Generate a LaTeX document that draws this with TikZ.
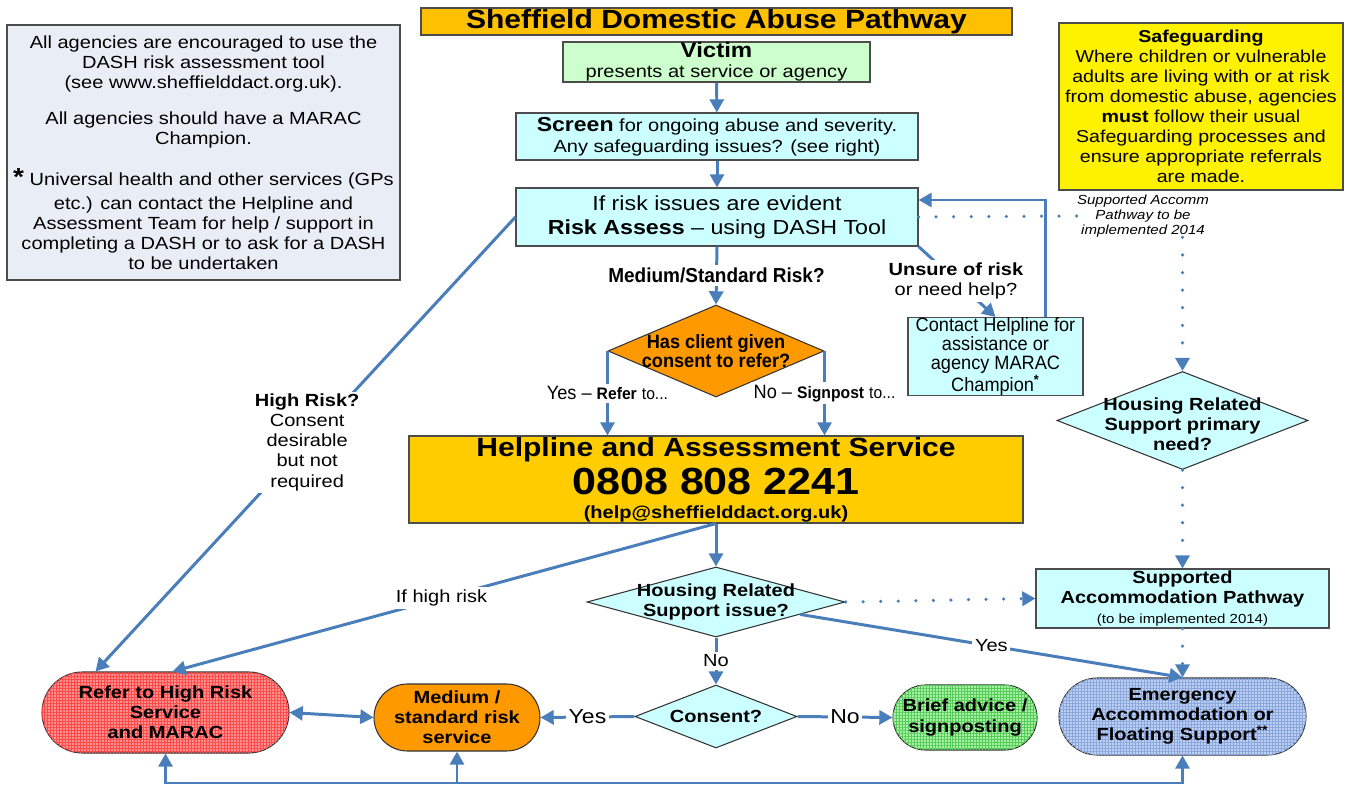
\documentclass[tikz,border=0pt]{standalone}
\usepackage{fontspec}
\setmainfont{Liberation Sans}[FakeStretch=1.14]
\newfontfamily\narrowfont{Liberation Sans}[FakeStretch=0.94, Ligatures=TeX]
\usetikzlibrary{arrows.meta,shapes.geometric,patterns.meta,calc}
\definecolor{lineblue}{HTML}{4A7EBB}
\definecolor{titlegold}{HTML}{FFC000}
\definecolor{helpgold}{HTML}{FFCC00}
\definecolor{palecyan}{HTML}{CCFFFF}
\definecolor{palegreen}{HTML}{CCFFCC}
\definecolor{infogrey}{HTML}{E9EEF6}
\definecolor{deeporange}{HTML}{FF9900}
\definecolor{riskred}{HTML}{FF9090}
\definecolor{riskline}{HTML}{FF4A4A}
\definecolor{briefgreen}{HTML}{A8F0A8}
\definecolor{briefline}{HTML}{55CC55}
\definecolor{emblue}{HTML}{BCD0F2}
\definecolor{emline}{HTML}{8AA6DC}
\newcommand{\fs}[2]{\fontsize{#1}{#2}\selectfont}
\begin{document}
\begin{tikzpicture}[x=0.02cm, y=-0.02cm, >={Triangle[length=7.5pt,width=8pt]},
  every node/.style={font=\fs{10}{11.4}, align=center, inner sep=0pt},
  wh/.style 2 args={minimum width=#1*0.02cm, minimum height=#2*0.02cm},
  box/.style={draw=black!70, line width=0.6pt},
  dia/.style={diamond, draw=black!80, line width=0.6pt},
  pill/.style={draw=black!80, line width=0.6pt, rounded corners=#1*0.01cm},
  mesh/.style 2 args={fill=#1,
    postaction={pattern={Lines[distance=1.7pt,line width=0.35pt]}, pattern color=#2},
    postaction={pattern={Lines[angle=90,distance=1.7pt,line width=0.35pt]}, pattern color=#2}},
  flow/.style={draw=lineblue, line width=1.7pt, ->},
  dots/.style={draw=lineblue, line width=2pt, line cap=round, dash pattern=on 0pt off 10pt, ->},
  lbl/.style={fill=white, inner sep=1.5pt},
  nb/.style={font=\narrowfont\bfseries\fs{#1}{#1}},
  dtext/.style={font=\bfseries\fs{10}{11.4}}]
\useasboundingbox (0,0) rectangle (1353,787);
% header and side notes
\node[box, fill=titlegold, wh={591}{27}, font=\bfseries\fs{15}{16}] (title) at (716.5,21.5) {Sheffield Domestic Abuse Pathway};
\node[box, fill=infogrey, wh={393}{255}] (info) at (203.5,152.5) {All agencies are encouraged to use the\\DASH risk assessment tool\\(see www.sheffielddact.org.uk).\\[9pt]
  All agencies should have a MARAC\\Champion.\\[11pt]
  {\bfseries\fs{14}{11.4}*} Universal health and other services (GPs\\[2pt]etc.) can contact the Helpline and\\Assessment Team for help / support in\\completing a DASH or to ask for a DASH\\to be undertaken};
\node[box, fill=yellow, wh={284}{167}, font=\fs{9.8}{11.4}] (safeg) at (1201,106.5) {{\bfseries Safeguarding}\\Where children or vulnerable\\adults are living with or at risk\\from domestic abuse, agencies\\{\bfseries must} follow their usual\\Safeguarding processes and\\ensure appropriate referrals\\are made.};
\node[font=\itshape\fs{7.5}{8.5}] (note) at (1143,216) {Supported Accomm\\Pathway to be\\implemented 2014};
% main column
\node[box, fill=palegreen, wh={307}{40}] (victim) at (716.5,62) {{\bfseries\fs{12}{12}Victim}\\presents at service or agency};
\node[box, fill=palecyan, wh={402}{47}, font=\fs{10}{12}] (screen) at (717,136.5) {{\bfseries\fs{11.5}{12}Screen} for ongoing abuse and severity.\\Any safeguarding issues? (see right)};
\node[box, fill=palecyan, wh={402}{58}, font=\fs{11.6}{13.7}] (risk) at (717,217) {If risk issues are evident\\{\bfseries Risk Assess} -- using DASH Tool};
\node[box, fill=palecyan, wh={175}{77}, font=\narrowfont\fs{11}{10.8}] (contact) at (995.5,356.5) {Contact Helpline for\\assistance or\\agency MARAC\\Champion\textsuperscript{\bfseries *}};
\node[dia, fill=deeporange, wh={216}{92}, label={[nb=11]center:Has client given\\consent to refer?}] (hasc) at (716,351) {};
\node[box, fill=helpgold, wh={614}{87}, font={\bfseries\lineskiplimit=-50pt\fs{10}{21.6}}] (help) at (716,479.5) {{\fs{15}{15}Helpline and Assessment Service}\\{\fs{21.5}{21.5}0808 808 2241}\\[-7.9pt]{\fs{10}{10}(help@sheffielddact.org.uk)}};
\node[dia, fill=palecyan, wh={258}{70}, label={[dtext]center:Housing Related\\Support issue?}] (hous) at (716,602) {};
\node[dia, fill=palecyan, wh={162}{63}, label={[dtext]center:Consent?}] (consent) at (716,716.5) {};
\node[dia, fill=palecyan, wh={251}{98}, label={[dtext, yshift=-0.08cm]center:Housing Related\\Support primary\\need?}] (hrp) at (1182.5,420.5) {};
\node[box, fill=palecyan, wh={293}{59}, font=\bfseries\fs{10}{11.4}] (supp) at (1182.5,598.5) {Supported\\Accommodation Pathway\\{\mdseries\fs{7.5}{8}(to be implemented 2014)}};
% outcomes
\node[pill=81, mesh={riskred}{riskline}, wh={247}{81}, font=\bfseries\fs{10}{11.4}] (hr) at (165.5,712.5) {Refer to High Risk\\Service\\and MARAC};
\node[pill=67, fill=deeporange, wh={166}{67}, font=\bfseries\fs{10}{11.4}] (medium) at (457,717.5) {Medium /\\standard risk\\service};
\node[pill=65, mesh={briefgreen}{briefline}, wh={144}{65}, font=\bfseries\fs{10}{11.4}] (brief) at (965,717.5) {Brief advice /\\signposting};
\node[pill=77, mesh={emblue}{emline}, wh={247}{77}, font=\bfseries\fs{10}{11.4}] (emerg) at (1182.5,716.5) {Emergency\\Accommodation or\\Floating Support\textsuperscript{**}};
\coordinate (busline) at (0,783);
% connectors
\draw[flow] (victim) -- (screen);
\draw[flow] (screen) -- (risk);
\draw[flow] (risk.south) -- node[lbl, nb=11.5] {Medium/Standard Risk?} (hasc.north);
\draw[flow] (risk.west) -- node[lbl, pos=0.496] {{\bfseries High Risk?}\\Consent\\desirable\\but not\\required} ($(hr.north)+(-70,0)$);
\draw[flow] (risk.south east) -- node[lbl, pos=0.486] {{\bfseries Unsure of risk}\\or need help?} (contact.north);
\draw[flow] ($(contact.north)+(49.5,0)$) |- ($(risk.east)+(0,-17)$);
\draw[dots, -] (risk.east) -- (note.west);
\draw[dots] (hrp.north |- note.south) -- (hrp.north);
\draw[flow] (hasc.west) -- node[lbl, font=\narrowfont\fs{11}{12}] {Yes -- {\bfseries\fs{9.5}{10}Refer} {\fs{9.5}{10}to...}} (hasc.west |- help.north);
\draw[flow] (hasc.east) -- node[lbl, font=\narrowfont\fs{11}{12}] {No -- {\bfseries\fs{9.5}{10}Signpost} {\fs{9.5}{10}to...}} (hasc.east |- help.north);
\draw[flow] (help.south) -- (hous.north);
\draw[flow] (help.south) -- node[lbl, pos=0.505] {If high risk} ($(hr.north)+(7,0)$);
\draw[dots] (hous.east) -- (supp.west);
\draw[dots] (hrp.south) -- (supp.north);
\draw[dots] (supp.south) -- (emerg.north);
\draw[flow] ($(hous.east)!0.35!(hous.south)$) -- node[lbl, pos=0.5] {Yes} (emerg.north);
\draw[flow] (hous.south) -- node[lbl] {No} (consent.north);
\draw[flow] (consent.west) -- node[lbl, font=\fs{11.5}{12}] {Yes} (medium.east);
\draw[flow] (consent.east) -- node[lbl, font=\fs{11.5}{12}] {No} (brief.west);
\draw[flow, <->] (hr.east) -- (medium.west);
\draw[flow, <->] (hr.south) -- (hr.south |- busline) -| (emerg.south);
\draw[flow] (medium.south |- busline) -- (medium.south);
\end{tikzpicture}
\end{document}
